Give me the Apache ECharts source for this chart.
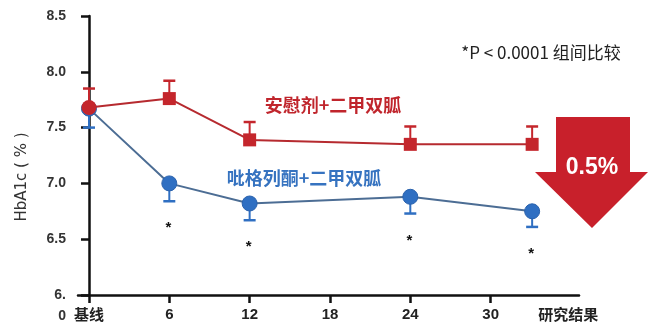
<!DOCTYPE html>
<html>
<head>
<meta charset="utf-8">
<style>
  html, body { margin: 0; padding: 0; background: #ffffff; }
  #chart { width: 656px; height: 333px; }
</style>
<script src="https://cdn.jsdelivr.net/npm/echarts@6/dist/echarts.min.js"></script>
</head>
<body>
<div id="chart"></div>
<script>
// Study visits (months); the last one is the end-of-study visit
const visitX = [0, 6, 12, 24, 33.1];

// Placebo + metformin: mean HbA1c and upper error bar
const placeboMean = [7.68, 7.76, 7.39, 7.35, 7.35];
const placeboUpper = [7.85, 7.92, 7.55, 7.51, 7.51];

// Pioglitazone + metformin: mean HbA1c and lower error bar
const pioMean = [7.67, 7.00, 6.82, 6.88, 6.75];
const pioLower = [7.50, 6.84, 6.67, 6.73, 6.61];
const pioSignificant = [false, true, true, true, true];

// X axis ticks and labels
const xTickValues = [0, 6, 12, 18, 24, 30];
const xTickLabels = ['基线', '6', '12', '18', '24', '30'];
const xEndLabelValue = 35.8;
const xEndLabel = '研究结果';

// Y axis
const yMin = 6, yMax = 8.5, yStep = 0.5;

const seriesNames = ['安慰剂+二甲双胍', '吡格列酮+二甲双胍'];
const yAxisTitle = 'HbA1c ( % )';
const pNote = '*P < 0.0001 组间比较';
const diffText = '0.5%';

const RED = '#c4262c';
const RED_LINE = '#b62a2f';
const BLUE = '#2f6fc2';
const BLUE_LINE = '#4c6d94';
const LATIN = '"Liberation Sans", Arial, sans-serif';
const CJK = '"Noto Sans CJK SC", "Noto Sans", sans-serif';

const chart = echarts.init(document.getElementById('chart'), null, { renderer: 'canvas' });

function errorBarRenderer(color, withStars) {
  return function (params, api) {
    const i = params.dataIndex;
    const p0 = api.coord([api.value(0), api.value(1)]);
    const p1 = api.coord([api.value(0), api.value(2)]);
    const half = 6;
    const children = [
      { type: 'line', shape: { x1: p0[0], y1: p0[1], x2: p1[0], y2: p1[1] },
        style: { stroke: color, lineWidth: 2 } },
      { type: 'line', shape: { x1: p1[0] - half, y1: p1[1], x2: p1[0] + half, y2: p1[1] },
        style: { stroke: color, lineWidth: 2.5 } }
    ];
    if (withStars && pioSignificant[i]) {
      children.push({
        type: 'text',
        style: { x: p1[0] - 1, y: p1[1] + 27, text: '*', fill: '#111',
                 font: 'bold 15px ' + LATIN, align: 'center', verticalAlign: 'middle' }
      });
    }
    return { type: 'group', children: children };
  };
}

const option = {
  animation: false,
  backgroundColor: '#ffffff',
  grid: { left: 78, right: 77, top: 16, bottom: 38, containLabel: false, outerBoundsMode: 'none' },
  xAxis: {
    type: 'value',
    min: -0.82,
    max: 36.6,
    splitLine: { show: false },
    axisLine: { show: true, lineStyle: { color: '#111', width: 2.5 } },
    axisTick: { show: true, customValues: xTickValues, length: 8,
                lineStyle: { color: '#111', width: 2.5 } },
    axisLabel: {
      customValues: xTickValues.concat([xEndLabelValue]),
      margin: 12,
      color: '#222',
      fontWeight: 'bold',
      fontSize: 15,
      fontFamily: LATIN,
      formatter: function (v) {
        const k = xTickValues.indexOf(v);
        if (k >= 0) return k === 0 ? '{c|' + xTickLabels[k] + '}' : xTickLabels[k];
        return '{c|' + xEndLabel + '}';
      },
      rich: { c: { fontFamily: CJK, fontWeight: 'bold', fontSize: 15, color: '#222' } }
    }
  },
  yAxis: {
    type: 'value',
    min: yMin,
    max: yMax,
    interval: yStep,
    splitLine: { show: false },
    axisLine: { show: true, onZero: true, lineStyle: { color: '#111', width: 2.5 } },
    axisTick: { show: true, length: 8, lineStyle: { color: '#111', width: 2.5 } },
    axisLabel: {
      margin: 12,
      color: '#333',
      fontWeight: 'bold',
      fontSize: 14,
      fontFamily: LATIN,
      formatter: function (v) {
        if (v === yMin) return '{s| }\n{a|6.}\n{b|0}';
        return v.toFixed(1);
      },
      rich: {
        s: { lineHeight: 21, fontSize: 14 },
        a: { lineHeight: 21, fontSize: 14, fontWeight: 'bold', color: '#333', fontFamily: LATIN },
        b: { lineHeight: 21, fontSize: 14, fontWeight: 'bold', color: '#333', fontFamily: LATIN,
             padding: [0, 0, 0, 0] }
      }
    }
  },
  series: [
    {
      name: seriesNames[1] + ' 误差',
      type: 'custom',
      z: 2,
      renderItem: errorBarRenderer(BLUE, true),
      data: visitX.map((x, i) => [x, pioMean[i], pioLower[i]])
    },
    {
      name: seriesNames[0] + ' 误差',
      type: 'custom',
      z: 2,
      renderItem: errorBarRenderer(RED, false),
      data: visitX.map((x, i) => [x, placeboMean[i], placeboUpper[i]])
    },
    {
      name: seriesNames[1],
      type: 'line',
      z: 3,
      symbol: 'circle',
      symbolSize: 15,
      lineStyle: { color: BLUE_LINE, width: 2 },
      itemStyle: { color: BLUE, borderColor: '#2a62ad', borderWidth: 1 },
      data: visitX.map((x, i) => [x, pioMean[i]])
    },
    {
      name: seriesNames[0],
      type: 'line',
      z: 4,
      symbol: 'rect',
      symbolSize: 13,
      lineStyle: { color: RED_LINE, width: 2 },
      itemStyle: { color: RED },
      data: visitX.map((x, i) => i === 0
        ? { value: [x, placeboMean[i]], symbol: 'circle', symbolSize: 15 }
        : [x, placeboMean[i]])
    }
  ],
  graphic: [
    {
      type: 'text', x: 22, y: 177, rotation: Math.PI / 2,
      style: { text: yAxisTitle, font: '15px "DejaVu Sans", sans-serif', fill: '#333',
               align: 'center', verticalAlign: 'middle' }
    },
    {
      type: 'text', x: 541, y: 53,
      style: { text: pNote, font: '17px ' + CJK, fill: '#222',
               align: 'center', verticalAlign: 'middle' }
    },
    {
      type: 'text', x: 333, y: 105,
      style: { text: seriesNames[0], font: 'bold 18px ' + CJK, fill: '#c0252c',
               align: 'center', verticalAlign: 'middle' }
    },
    {
      type: 'text', x: 304, y: 178,
      style: { text: seriesNames[1], font: 'bold 18px ' + CJK, fill: '#3673c0',
               align: 'center', verticalAlign: 'middle' }
    },
    {
      type: 'polygon',
      shape: { points: [[556, 117], [630, 117], [630, 172], [648, 172], [592, 228], [535, 172], [556, 172]] },
      style: { fill: '#c8202b' }
    },
    {
      type: 'text', x: 592, y: 168,
      style: { text: diffText, font: 'bold 23px ' + LATIN, fill: '#ffffff',
               align: 'center', verticalAlign: 'middle' }
    }
  ]
};

chart.setOption(option);
</script>
</body>
</html>
